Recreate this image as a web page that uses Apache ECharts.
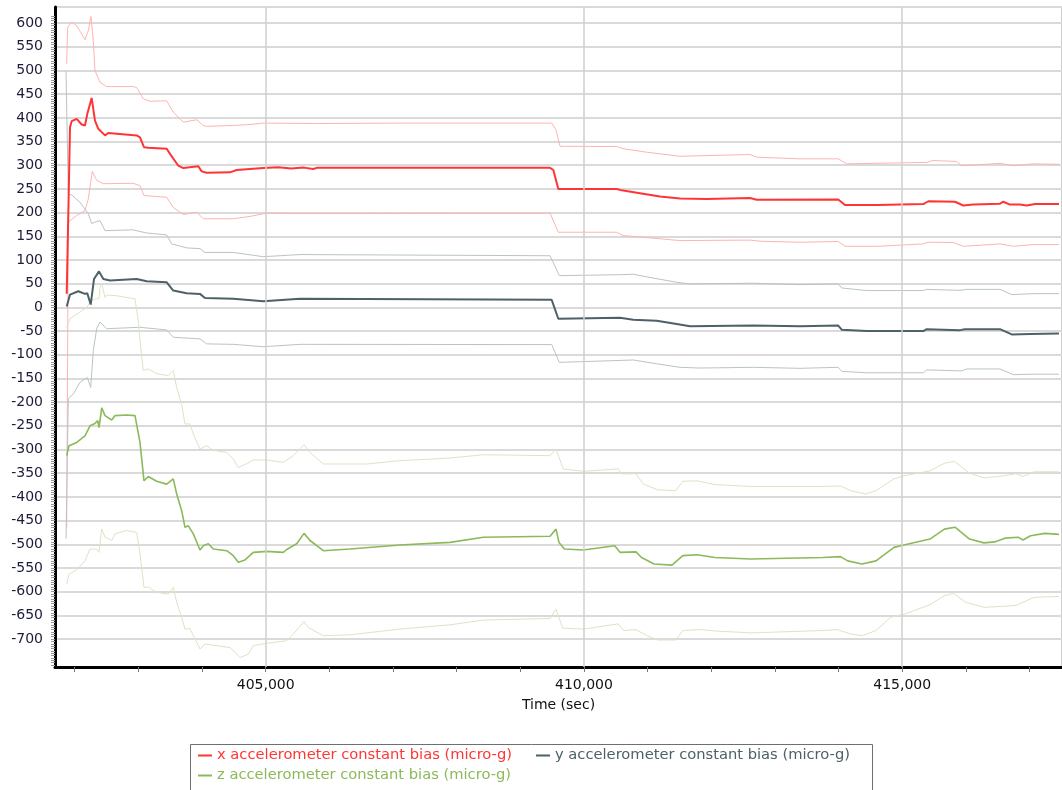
<!DOCTYPE html>
<html>
<head>
<meta charset="utf-8">
<script src="https://cdn.jsdelivr.net/npm/echarts@6/dist/echarts.min.js"></script>
<style>html,body{margin:0;padding:0;background:#fff;}#c{width:1062px;height:790px;}</style>
</head>
<body>
<div id="c"></div>
<script>
// ---- data (time in sec, bias in micro-g) ----
const xBiasMean = [[401874,29],[401926,380],[401952,393],[402031,398],[402109,386],[402161,384],[402197,408],[402266,442],[402318,394],[402370,377],[402476,363],[402527,368],[402973,363],[403025,359],[403088,338],[403155,337],[403445,335],[403497,324],[403627,299],[403705,294],[403941,298],[403994,287],[404073,284],[404439,285],[404545,290],[404962,294],[405200,296],[405400,293],[405600,295],[405748,292],[405801,294.5],[409467,294.5],[409519,290],[409597,250],[410514,250],[410539,252],[410593,247],[410880,241],[411194,234],[411508,230],[411928,229],[412608,231],[412714,227],[413995,227.6],[414101,216],[414624,216],[414651,218],[415331,218],[415409,224],[415829,223],[415959,215],[416116,217],[416536,219],[416588,223],[416693,217],[416850,217],[416955,215],[417086,218],[417463,218]];
const xBiasUpper = [[401874,514],[401889,591],[401952,602],[402031,595],[402161,565],[402213,584],[402255,614],[402292,563],[402318,500],[402397,475],[402502,466],[402920,466],[402973,464],[403077,440],[403182,435],[403445,436],[403548,412],[403705,391],[403916,396],[403941,394],[404020,384],[404073,382],[404491,384],[404753,386],[404962,389],[405801,388],[407110,389],[409493,389],[409560,375],[409624,340],[410514,339.5],[410613,335],[410986,327.5],[411508,319],[412608,322.6],[412714,317],[413394,313.5],[413995,313.5],[414127,303],[415384,306],[415483,310],[415855,308],[415934,299],[416536,304],[416740,299],[417054,303],[417463,302]];
const xBiasLower = [[401874,-465],[401899,180],[402031,194],[402161,204],[402213,229],[402276,287],[402345,268],[402449,261],[402915,262],[403025,257],[403088,236],[403445,232.5],[403548,211],[403705,196],[403916,201],[404020,187],[404491,187],[404753,192],[405016,199],[405539,198],[409467,199],[409597,158.6],[410514,158.6],[410613,151.6],[411037,146.7],[411508,141],[412608,142],[412766,139.6],[413394,137.5],[413995,139],[414101,129],[414624,129],[415331,134],[415409,137.5],[415797,137],[415959,129],[416536,134],[416745,129],[417054,132.6],[417463,132.6]];
const yBiasMean = [[401874,2],[401926,27],[402056,34],[402161,28.5],[402197,30],[402251,6],[402303,60],[402381,76],[402449,60],[402554,56.6],[402973,60],[403130,55],[403445,53],[403548,35.5],[403759,30],[403968,28.5],[404046,20],[404491,18],[404962,13],[405539,18],[409493,16],[409597,-24],[410566,-22],[410775,-26],[411143,-28],[411456,-35],[411666,-40],[412660,-38],[413394,-40],[413995,-38.4],[414049,-47],[414441,-50],[415331,-50],[415384,-46],[415907,-48],[415986,-46],[416536,-46],[416720,-57],[417007,-56],[417463,-55]];
const yBiasUpper = [[401863,499],[401899,240],[401952,237],[402083,222],[402213,198],[402266,177],[402318,180],[402345,176],[402397,183],[402476,162],[402915,163.6],[403130,157],[403445,153],[403523,134],[403759,125.6],[403968,124],[404046,116],[404491,116],[404962,107],[405539,111.5],[409467,109],[409613,67],[410566,69],[410775,70],[411084,62],[411456,53],[411666,49.6],[412660,51],[413394,48],[413995,49.6],[414049,41],[414441,35.5],[415331,35.5],[415384,38],[415907,36],[416013,38],[416536,38],[416720,27],[417060,29],[417463,29]];
const yBiasLower = [[401863,-488],[401899,-193],[401977,-183],[402083,-158],[402197,-148],[402251,-169],[402292,-91],[402345,-45],[402397,-31],[402502,-45],[403025,-42],[403445,-47.6],[403548,-63],[403968,-66.5],[404073,-77],[404491,-78],[404962,-83],[405539,-78],[409493,-78.5],[409613,-116],[410566,-112],[410775,-111],[411143,-119],[411508,-126.5],[411823,-128],[412660,-126.5],[413394,-128.6],[413995,-126.5],[414049,-135],[414441,-138],[415331,-138],[415384,-132],[415934,-134],[416013,-130],[416536,-130],[416745,-142],[417054,-141],[417463,-141]];
const zBiasMean = [[401874,-313],[401910,-292],[402031,-285],[402161,-271],[402240,-250],[402318,-245],[402361,-239],[402381,-254],[402424,-212],[402476,-228.5],[402580,-237.6],[402632,-228.5],[402816,-227],[402947,-228.5],[402973,-232],[403025,-285],[403088,-366],[403155,-357],[403287,-367],[403445,-373],[403548,-362],[403602,-394],[403680,-429],[403732,-464],[403785,-461],[403863,-478],[403968,-512],[404020,-503],[404098,-499],[404177,-510],[404387,-513.5],[404491,-524],[404570,-538],[404675,-533],[404805,-517],[405016,-515],[405276,-517],[405330,-511],[405487,-499],[405602,-477],[405696,-492],[405905,-513.5],[406324,-510],[407110,-501.5],[407896,-496],[408419,-485],[409467,-483],[409561,-468],[409608,-496],[409694,-510],[409990,-512],[410483,-503],[410566,-517],[410817,-516],[410905,-528],[411100,-541.6],[411383,-544],[411553,-524],[411776,-522],[412059,-528],[412624,-531],[413749,-528],[414030,-526],[414143,-535],[414368,-541.6],[414588,-535],[414871,-506.5],[415043,-501],[415436,-489],[415662,-468],[415829,-464],[416057,-489],[416284,-497],[416451,-495],[416614,-487],[416819,-485],[416897,-491],[417015,-482],[417240,-477],[417463,-479]];
const zBiasUpper = [[401874,-42],[401926,-24],[402188,0],[402240,11],[402318,18],[402381,18],[402397,42.5],[402424,50],[402476,21],[402502,26],[402632,25],[402947,18],[402973,16],[402999,-28],[403025,-70],[403077,-133],[403155,-130],[403287,-140],[403470,-144],[403548,-133.5],[403602,-169],[403680,-205],[403732,-246],[403811,-246],[403863,-267],[403968,-299],[404073,-292],[404177,-302],[404387,-306],[404491,-320],[404570,-338],[404702,-330],[404805,-322],[405016,-322],[405276,-327],[405434,-313],[405602,-290],[405696,-306],[405905,-330.5],[406587,-330.5],[407110,-323.5],[407896,-318],[408419,-311],[409467,-313],[409561,-299],[409675,-341],[409990,-346],[410539,-341],[410597,-351.6],[410817,-351],[410934,-373],[411158,-385],[411439,-387],[411553,-367],[411776,-366],[412059,-374],[412624,-378],[413749,-378],[414030,-377],[414195,-387],[414424,-394],[414588,-387],[414871,-362],[415043,-355],[415436,-345],[415662,-329],[415821,-325],[416057,-350],[416284,-360],[416564,-356],[416787,-351],[416897,-357],[417071,-347],[417463,-347]];
const zBiasLower = [[401874,-584],[401910,-563],[402031,-554],[402161,-535],[402240,-510],[402345,-510],[402381,-517],[402424,-468],[402476,-485],[402580,-492],[402632,-478],[402816,-471],[402973,-475],[403025,-520],[403088,-591],[403155,-590],[403287,-601.5],[403470,-605],[403548,-591],[403602,-623],[403680,-654],[403732,-679],[403811,-678],[403863,-693],[403968,-721],[404046,-710.5],[404177,-713],[404439,-718],[404518,-728],[404596,-739],[404727,-732],[404805,-714],[405016,-709],[405330,-703.6],[405434,-689.5],[405602,-663],[405669,-675.5],[405905,-693],[406324,-691],[407110,-679],[407896,-670],[408419,-660],[409467,-656.5],[409561,-637],[409666,-677],[409990,-679],[410539,-668],[410624,-682],[410817,-680],[410990,-693],[411158,-702],[411439,-702],[411553,-682],[411834,-680],[412059,-683],[412624,-687],[413749,-682],[413975,-680],[414195,-689.5],[414368,-693],[414588,-682],[414819,-654],[415043,-647],[415436,-627.5],[415662,-608.5],[415804,-603.6],[416000,-622.7],[416284,-633],[416564,-631],[416787,-629],[417071,-612],[417463,-610]];

const seriesNames = ['x accelerometer constant bias (micro-g)','y accelerometer constant bias (micro-g)','z accelerometer constant bias (micro-g)'];
const xMajorTicks = [405000, 410000, 415000];
const xMinorTicks = [402000,403000,404000,405000,406000,407000,408000,409000,410000,411000,412000,413000,414000,415000,416000,417000];
const yTickMin = -700, yTickMax = 600, yTickStep = 50;

// ---- layout constants ----
const X_MIN = 401690, X_MAX = 417510;
const Y_MIN = -759, Y_MAX = 634;
const GRID_TOP = 7, GRID_BOTTOM_PX = 667, H = 790;
const pxPerUnit = (GRID_BOTTOM_PX - GRID_TOP) / (Y_MAX - Y_MIN);
const labelGridBottomPx = GRID_TOP + (Y_MAX - yTickMin) * pxPerUnit;

const yMinorTicks = [];
for (let v = -755; v <= 615; v += 5) yMinorTicks.push(v);

const FONT = 'DejaVu Sans';
const cX = '#ff3535', cXb = '#ffb3b3';
const cY = '#4d6166', cYb = '#b9c4c6';
const cZ = '#8cb95a', cZb = '#d9e6c4';

function line(name, data, color, width, extra) {
  return Object.assign({
    name, type: 'line', data, xAxisIndex: 0, yAxisIndex: 0,
    showSymbol: false, symbol: 'none', silent: true, animation: false,
    lineStyle: { color, width }, itemStyle: { color }
  }, extra || {});
}

const legendCommon = {
  orient: 'horizontal', left: 188, padding: [5, 10, 0, 10],
  itemGap: 24, itemWidth: 14, itemHeight: 2, icon: 'rect',
  textStyle: { fontFamily: FONT, fontSize: 14.7 }
};

const chart = echarts.init(document.getElementById('c'), null, { renderer: 'canvas' });
chart.setOption({
  animation: false,
  backgroundColor: '#fff',
  grid: [
    { left: 55, right: 0, top: GRID_TOP, bottom: H - GRID_BOTTOM_PX, show: true, borderColor: '#9a9a9a', borderWidth: 1 },
    { left: 55, right: 0, top: GRID_TOP, bottom: H - labelGridBottomPx }
  ],
  graphic: [{
    type: 'rect', left: 188, top: 742, silent: true,
    shape: { width: 682, height: 70 },
    style: { fill: 'none', stroke: '#6f6f6f', lineWidth: 1 }
  }],
  xAxis: [
    {
      type: 'value', gridIndex: 0, min: X_MIN, max: X_MAX,
      name: 'Time (sec)', nameLocation: 'middle', nameGap: 31,
      nameTextStyle: { fontFamily: FONT, fontSize: 14, color: '#111' },
      axisLine: { show: true, onZero: false, lineStyle: { color: '#000', width: 3 } },
      axisTick: { show: true, customValues: xMinorTicks, length: 5, lineStyle: { color: '#777', width: 1 } },
      axisLabel: { show: true, customValues: xMajorTicks, margin: 11, fontFamily: FONT, fontSize: 14, color: '#111',
        formatter: v => v.toLocaleString('en-US') },
      splitLine: { show: false }
    },
    { type: 'value', gridIndex: 1, min: X_MIN, max: X_MAX, show: false }
  ],
  yAxis: [
    {
      type: 'value', gridIndex: 0, min: Y_MIN, max: Y_MAX,
      axisLine: { show: true, onZero: false, lineStyle: { color: '#000', width: 3 } },
      axisTick: { show: true, customValues: yMinorTicks, length: 4, lineStyle: { color: '#999', width: 1 } },
      axisLabel: { show: false },
      splitLine: { show: false }
    },
    {
      type: 'value', gridIndex: 1, min: yTickMin, max: Y_MAX, interval: yTickStep,
      axisLine: { show: false }, axisTick: { show: false },
      axisLabel: { show: true, showMaxLabel: false, margin: 12, fontFamily: FONT, fontSize: 14, color: '#1c1c38',
        formatter: v => (v <= yTickMax ? String(v) : '') },
      splitLine: { show: true, lineStyle: { color: '#dadada', width: 2 } }
    }
  ],
  legend: [
    Object.assign({}, legendCommon, {
      top: 743,
      data: [
        { name: seriesNames[0], textStyle: { color: cX } },
        { name: seriesNames[1], textStyle: { color: cY } }
      ]
    }),
    Object.assign({}, legendCommon, {
      top: 763,
      data: [
        { name: seriesNames[2], textStyle: { color: cZ } }
      ]
    })
  ],
  series: [
    line('x upper', xBiasUpper, cXb, 1, {
      markLine: { silent: true, symbol: 'none', label: { show: false },
        lineStyle: { color: '#cfcfcf', width: 1.5, type: 'solid' },
        data: xMajorTicks.map(v => ({ xAxis: v })) }
    }),
    line('x lower', xBiasLower, cXb, 1),
    line('y upper', yBiasUpper, cYb, 1),
    line('y lower', yBiasLower, cYb, 1),
    line('z upper', zBiasUpper, cZb, 1),
    line('z lower', zBiasLower, cZb, 1),
    line(seriesNames[2], zBiasMean, cZ, 1.6),
    line(seriesNames[1], yBiasMean, cY, 2),
    line(seriesNames[0], xBiasMean, cX, 2)
  ]
});
</script>
</body>
</html>
